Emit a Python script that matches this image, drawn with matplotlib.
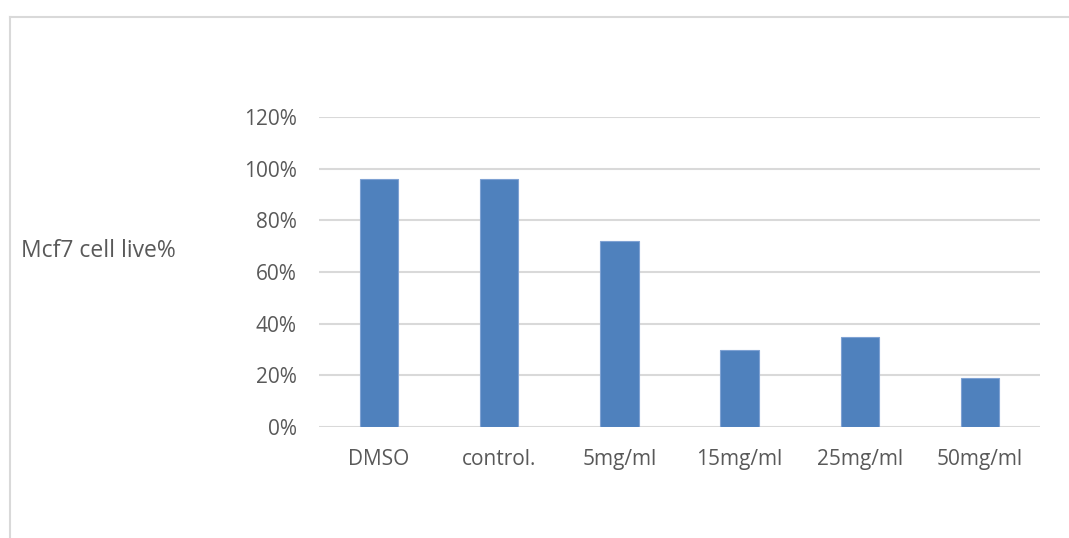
import matplotlib
matplotlib.use("Agg")
import matplotlib.pyplot as plt
from matplotlib.lines import Line2D
from matplotlib.ticker import FuncFormatter
import numpy as np

# MCF7 viability after treatment
categories = ["DMSO", "control.", "5mg/ml", "15mg/ml", "25mg/ml", "50mg/ml"]
live_pct = [96, 96, 72, 30, 35, 19]
y_ticks = [0, 20, 40, 60, 80, 100, 120]

plt.rcParams['font.family'] = ['Open Sans', 'DejaVu Sans']

fig = plt.figure(figsize=(10.69, 5.38), dpi=100)

# chart area frame (top and left edges only)
fx, fy = 10 / 1069, 1 - 17 / 538
fig.add_artist(Line2D([fx, 1.0], [fy, fy], transform=fig.transFigure,
                      color="#D9D9D9", linewidth=1.5))
fig.add_artist(Line2D([fx, fx], [0.0, fy], transform=fig.transFigure,
                      color="#D9D9D9", linewidth=1.5))

ax = fig.add_axes([319 / 1069, 1 - 427 / 538, 721 / 1069, 310 / 538])
x = np.arange(len(categories))
ax.bar(x, live_pct, width=0.32, color="#4F81BD", edgecolor="#7FA2D3",
       linewidth=0.8, zorder=3)

ax.set_xlim(-0.5, len(categories) - 0.5)
ax.set_ylim(0, 120)
ax.set_yticks(y_ticks)
ax.yaxis.set_major_formatter(FuncFormatter(lambda v, p: f"{v:.0f}%"))
ax.set_xticks(x)
ax.set_xticklabels(categories)
ax.grid(axis="y", color="#D9D9D9", linewidth=1.5, zorder=0)
for s in ax.spines.values():
    s.set_visible(False)
ax.tick_params(axis="both", length=0, labelsize=15, colors="#595959")
ax.tick_params(axis="y", pad=16)
ax.tick_params(axis="x", pad=16)

fig.text(21 / 1069, 1 - 251 / 538, "Mcf7 cell live%", fontsize=16.5,
         color="#595959", ha="left", va="center")

fig.savefig("out.png", dpi=100)
